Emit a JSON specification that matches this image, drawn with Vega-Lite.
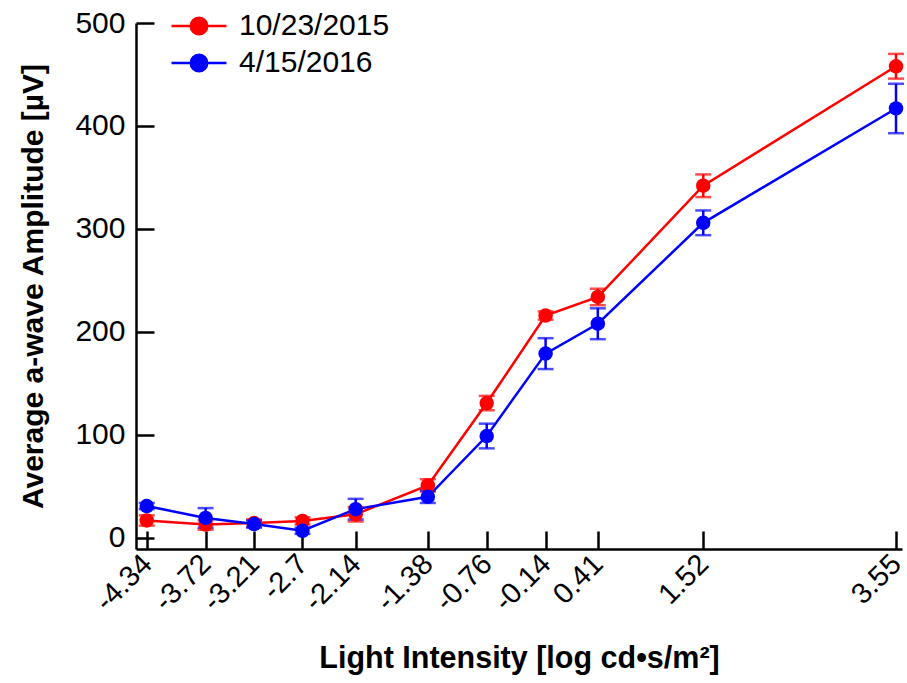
{
  "$schema": "https://vega.github.io/schema/vega-lite/v6.json",
  "autosize": "none",
  "width": 766,
  "height": 526,
  "padding": {"left": 136, "top": 23, "right": 5, "bottom": 134},
  "background": "white",
  "config": {
    "view": {"stroke": null},
    "font": "Liberation Sans",
    "axis": {"grid": false, "domainColor": "black", "domainWidth": 2.5, "tickColor": "black", "tickWidth": 2.5, "labelColor": "black", "titleColor": "black", "labelFont": "Liberation Sans", "titleFont": "Liberation Sans", "titleFontWeight": "bold"}
  },
  "data": {"values": [
    {"x": -4.34, "date": "10/23/2015", "amp": 17, "lo": 12, "hi": 22},
    {"x": -3.72, "date": "10/23/2015", "amp": 13, "lo": 8, "hi": 17},
    {"x": -3.21, "date": "10/23/2015", "amp": 14.5, "lo": 11, "hi": 18},
    {"x": -2.7, "date": "10/23/2015", "amp": 16.5, "lo": 13, "hi": 20},
    {"x": -2.14, "date": "10/23/2015", "amp": 23, "lo": 16, "hi": 30},
    {"x": -1.38, "date": "10/23/2015", "amp": 51, "lo": 45, "hi": 57},
    {"x": -0.76, "date": "10/23/2015", "amp": 131, "lo": 124, "hi": 138},
    {"x": -0.14, "date": "10/23/2015", "amp": 216, "lo": 212, "hi": 220},
    {"x": 0.41, "date": "10/23/2015", "amp": 234, "lo": 226, "hi": 242},
    {"x": 1.52, "date": "10/23/2015", "amp": 342, "lo": 331, "hi": 353},
    {"x": 3.55, "date": "10/23/2015", "amp": 458, "lo": 446, "hi": 470},
    {"x": -4.34, "date": "4/15/2016", "amp": 31, "lo": 28, "hi": 34},
    {"x": -3.72, "date": "4/15/2016", "amp": 19.5, "lo": 10, "hi": 29},
    {"x": -3.21, "date": "4/15/2016", "amp": 13.5, "lo": 10, "hi": 17},
    {"x": -2.7, "date": "4/15/2016", "amp": 7, "lo": 4, "hi": 10},
    {"x": -2.14, "date": "4/15/2016", "amp": 28, "lo": 18, "hi": 38},
    {"x": -1.38, "date": "4/15/2016", "amp": 40, "lo": 34, "hi": 46},
    {"x": -0.76, "date": "4/15/2016", "amp": 99, "lo": 87, "hi": 111},
    {"x": -0.14, "date": "4/15/2016", "amp": 179, "lo": 164, "hi": 194},
    {"x": 0.41, "date": "4/15/2016", "amp": 208, "lo": 193, "hi": 223},
    {"x": 1.52, "date": "4/15/2016", "amp": 306, "lo": 294, "hi": 318},
    {"x": 3.55, "date": "4/15/2016", "amp": 417, "lo": 393, "hi": 441}
  ]},
  "encoding": {
    "x": {
      "field": "x", "type": "quantitative",
      "scale": {"domain": [-4.453, 3.613], "nice": false, "zero": false},
      "axis": {
        "values": [-4.34, -3.72, -3.21, -2.7, -2.14, -1.38, -0.76, -0.14, 0.41, 1.52, 3.55],
        "labelExpr": "datum.value + ''",
        "labelAngle": -45, "labelAlign": "right", "labelBaseline": "middle",
        "labelFontSize": 29, "labelPadding": 28, "labelOverlap": false, "labelFlush": false, "labelBound": false,
        "tickSize": -18,
        "title": "Light Intensity [log cd•s/m²]", "titleFontSize": 30.5, "titlePadding": 27
      }
    },
    "color": {
      "field": "date", "type": "nominal",
      "scale": {"domain": ["10/23/2015", "4/15/2016"], "range": ["#ff0000", "#0000ff"]},
      "legend": {
        "orient": "none", "legendX": 48, "legendY": -12, "title": null,
        "symbolType": "M-2,0L2,0M-0.6,0A0.6,0.6 0 1,1 0.6,0A0.6,0.6 0 1,1 -0.6,0Z",
        "symbolSize": 756, "symbolStrokeWidth": 2.5,
        "labelFontSize": 30, "labelColor": "black", "labelOffset": 25, "rowPadding": 7,
        "encode": {"symbols": {"update": {"fill": {"scale": "color", "field": "value"}, "stroke": {"scale": "color", "field": "value"}, "opacity": {"value": 1}}}}
      }
    }
  },
  "layer": [
    {
      "mark": {"type": "line", "strokeWidth": 2.5},
      "encoding": {
        "y": {
          "field": "amp", "type": "quantitative", "title": "Average a-wave Amplitude [µV]",
          "scale": {"domain": [-10.7, 500], "nice": false, "zero": false},
          "axis": {
            "values": [0, 100, 200, 300, 400, 500],
            "labelFontSize": 30, "labelPadding": 29, "tickSize": -18,
            "titleFontSize": 30, "titlePadding": 26
          }
        }
      }
    },
    {
      "mark": {"type": "errorbar", "ticks": {"size": 16, "thickness": 2.5}, "thickness": 2.5},
      "encoding": {
        "y": {"field": "lo", "type": "quantitative", "title": "Average a-wave Amplitude [µV]"},
        "y2": {"field": "hi"}
      }
    },
    {
      "mark": {"type": "point", "filled": true, "size": 210, "opacity": 1, "shape": "circle"},
      "encoding": {"y": {"field": "amp", "type": "quantitative", "title": "Average a-wave Amplitude [µV]"}}
    }
  ]
}
